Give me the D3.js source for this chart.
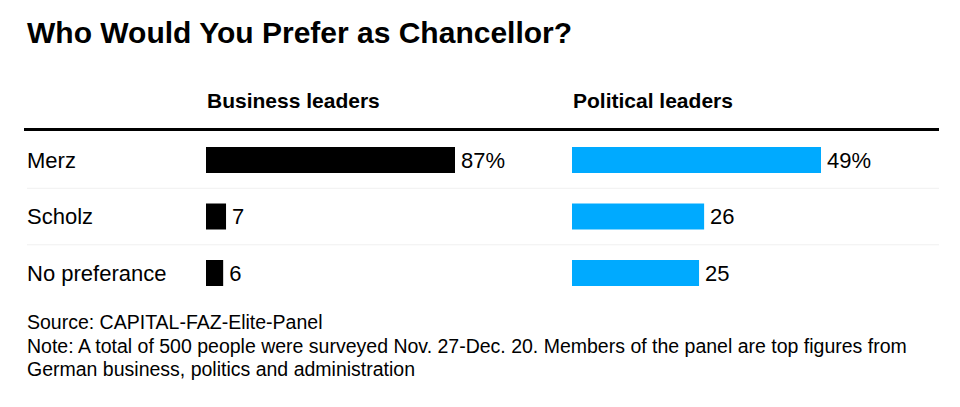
<!DOCTYPE html>
<html>
<head>
<meta charset="utf-8">
<script src="https://cdn.jsdelivr.net/npm/d3@7"></script>
<style>
  body { margin: 0; background: #fff; }
  text { font-family: "Liberation Sans", Arial, sans-serif; fill: #000; }
</style>
</head>
<body>
<svg id="chart" width="960" height="407"></svg>
<script>
const categories = ["Merz", "Scholz", "No preferance"];
const business = [87, 7, 6];
const political = [49, 26, 25];
const panels = [
  { title: "Business leaders", values: business, color: "#000000", x0: 206 },
  { title: "Political leaders", values: political, color: "#00aaff", x0: 572 }
];
const notes = [
  "Source: CAPITAL-FAZ-Elite-Panel",
  "Note: A total of 500 people were surveyed Nov. 27-Dec. 20. Members of the panel are top figures from",
  "German business, politics and administration"
];

const svg = d3.select("#chart");

svg.append("text")
  .attr("x", 27).attr("y", 43)
  .style("font-size", "30px").style("font-weight", "bold")
  .text("Who Would You Prefer as Chancellor?");

// rows
const y = d3.scaleBand()
  .domain(categories)
  .range([131.75, 301.25])
  .paddingInner(0.54)
  .paddingOuter(0.27);

// row separators
svg.selectAll("line.sep")
  .data(categories.slice(1))
  .enter().append("line")
  .attr("x1", 27).attr("x2", 939)
  .attr("y1", d => y(d) - y.step() * y.paddingInner() / 2)
  .attr("y2", d => y(d) - y.step() * y.paddingInner() / 2)
  .attr("stroke", "#f0f0f0").attr("stroke-width", 1);

svg.append("line")
  .attr("x1", 24).attr("x2", 939)
  .attr("y1", 129.5).attr("y2", 129.5)
  .attr("stroke", "#000").attr("stroke-width", 3);

svg.selectAll("text.cat")
  .data(categories)
  .enter().append("text")
  .attr("class", "cat")
  .attr("x", 27)
  .attr("y", d => y(d) + y.bandwidth() / 2)
  .attr("dy", "0.35em")
  .style("font-size", "22px")
  .text(d => d);

panels.forEach(p => {
  const x = d3.scaleLinear()
    .domain([0, d3.max(p.values)])
    .range([p.x0, p.x0 + 249]);

  svg.append("text")
    .attr("x", p.x0 + 1).attr("y", 108)
    .style("font-size", "21px").style("font-weight", "bold")
    .text(p.title);

  const g = svg.append("g");
  g.selectAll("rect")
    .data(p.values)
    .enter().append("rect")
    .attr("x", x(0))
    .attr("y", (d, i) => y(categories[i]))
    .attr("width", d => x(d) - x(0))
    .attr("height", y.bandwidth())
    .attr("fill", p.color);

  g.selectAll("text")
    .data(p.values)
    .enter().append("text")
    .attr("x", d => x(d) + 6)
    .attr("y", (d, i) => y(categories[i]) + y.bandwidth() / 2)
    .attr("dy", "0.36em")
    .style("font-size", "22px")
    .text((d, i) => i === 0 ? d + "%" : d);
});

svg.selectAll("text.note")
  .data(notes)
  .enter().append("text")
  .attr("class", "note")
  .attr("x", 27)
  .attr("y", (d, i) => 329 + i * 23.5)
  .style("font-size", "19.5px")
  .text(d => d);
</script>
</body>
</html>
